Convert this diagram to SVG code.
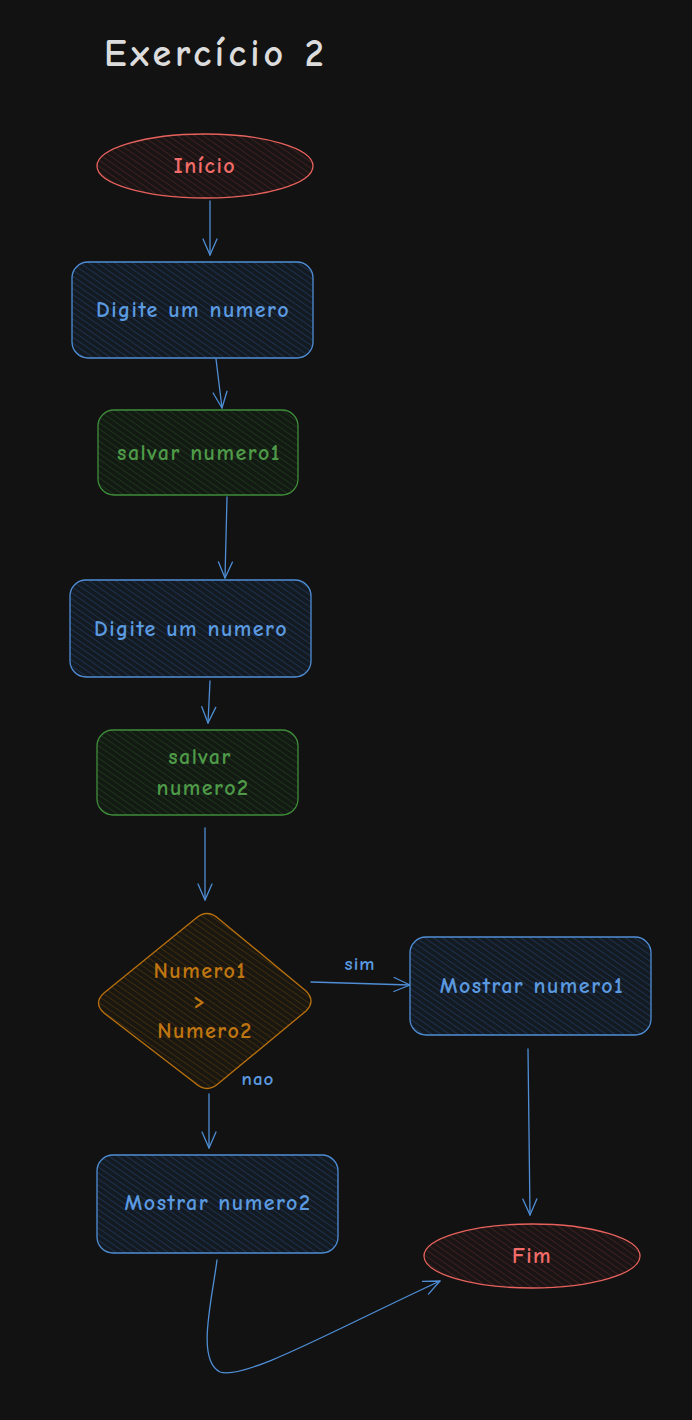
<svg xmlns="http://www.w3.org/2000/svg" width="692" height="1420" viewBox="0 0 692 1420">
  <style>
    text { font-family: "Comic Neue", "Liberation Sans", "DejaVu Sans", sans-serif; text-anchor: middle; dominant-baseline: central; font-weight: bold; }
    .title { font-size: 38px; fill: #dcdcdc; text-anchor: start; dominant-baseline: alphabetic; letter-spacing: 4px; }
    .lbl { font-size: 22px; letter-spacing: 1.5px; }
    .blue-t { fill: #5b9ae0; }
    .green-t { fill: #4e9a48; }
    .red-t { fill: #f26d6a; }
    .orange-t { fill: #c07610; }
    .edge-t { font-size: 19px; fill: #5b9ae0; letter-spacing: 1px; }
    .blue { stroke: #4f8ed6; stroke-width: 1.3; fill: url(#hatchBlue); }
    .green { stroke: #3f8d3a; stroke-width: 1.3; fill: url(#hatchGreen); }
    .red { stroke: #e8625d; stroke-width: 1.3; fill: url(#hatchRed); }
    .orange { stroke: #b8700e; stroke-width: 1.3; fill: url(#hatchOrange); }
    .conn { stroke: #4f8ed6; stroke-width: 1.3; fill: none; stroke-linecap: round; stroke-linejoin: round; }
  </style>
  <defs>
    <pattern id="hatchBlue" width="5" height="5" patternUnits="userSpaceOnUse" patternTransform="rotate(-55)">
      <rect width="5" height="5" fill="#141a22"/>
      <line x1="0" y1="0" x2="0" y2="5" stroke="#1f3b5e" stroke-width="1.4"/>
    </pattern>
    <pattern id="hatchGreen" width="5" height="5" patternUnits="userSpaceOnUse" patternTransform="rotate(-55)">
      <rect width="5" height="5" fill="#131a13"/>
      <line x1="0" y1="0" x2="0" y2="5" stroke="#1f3f1d" stroke-width="1.4"/>
    </pattern>
    <pattern id="hatchRed" width="5" height="5" patternUnits="userSpaceOnUse" patternTransform="rotate(-55)">
      <rect width="5" height="5" fill="#1a1414"/>
      <line x1="0" y1="0" x2="0" y2="5" stroke="#4a2424" stroke-width="1.4"/>
    </pattern>
    <pattern id="hatchOrange" width="5" height="5" patternUnits="userSpaceOnUse" patternTransform="rotate(-55)">
      <rect width="5" height="5" fill="#1a1610"/>
      <line x1="0" y1="0" x2="0" y2="5" stroke="#4a330e" stroke-width="1.4"/>
    </pattern>
    <marker id="arrow" viewBox="0 0 20 20" refX="18" refY="10" markerWidth="20" markerHeight="20" markerUnits="userSpaceOnUse" orient="auto">
      <path d="M2,3 L18,10 L2,17" fill="none" stroke="#4f8ed6" stroke-width="1.3" stroke-linecap="round" stroke-linejoin="round"/>
    </marker>
  </defs>

  <rect width="692" height="1420" fill="#121212"/>

  <text class="title" x="104" y="66">Exercício 2</text>

  <!-- connectors -->
  <g id="connectors">
    <path class="conn" d="M210,201 L210,255" marker-end="url(#arrow)"/>
    <path class="conn" d="M216,359 L222,408" marker-end="url(#arrow)"/>
    <path class="conn" d="M227,497 L225,578" marker-end="url(#arrow)"/>
    <path class="conn" d="M210,681 L208,723" marker-end="url(#arrow)"/>
    <path class="conn" d="M205,828 L205,900" marker-end="url(#arrow)"/>
    <path class="conn" d="M311,982 L410,985" marker-end="url(#arrow)"/>
    <text class="edge-t" x="360" y="964">sim</text>
    <path class="conn" d="M209,1094 L209,1148" marker-end="url(#arrow)"/>
    <text class="edge-t" x="258" y="1079">nao</text>
    <path class="conn" d="M528,1049 L530,1215" marker-end="url(#arrow)"/>
    <path class="conn" d="M217,1260 C212,1300 196,1360 220,1372 C245,1380 330,1332 440,1281" marker-end="url(#arrow)"/>
  </g>

  <g id="inicio">
    <ellipse class="red" cx="205" cy="166" rx="108" ry="32"/>
    <text class="lbl red-t" x="205" y="166">Início</text>
  </g>

  <g id="digite1">
    <rect class="blue" x="72" y="262" width="241" height="96" rx="16"/>
    <text class="lbl blue-t" x="193" y="310">Digite um numero</text>
  </g>

  <g id="salvar1">
    <rect class="green" x="98" y="410" width="200" height="85" rx="16"/>
    <text class="lbl green-t" x="199" y="453">salvar numero1</text>
  </g>

  <g id="digite2">
    <rect class="blue" x="70" y="580" width="241" height="97" rx="16"/>
    <text class="lbl blue-t" x="191" y="629">Digite um numero</text>
  </g>

  <g id="salvar2">
    <rect class="green" x="97" y="730" width="201" height="85" rx="16"/>
    <text class="lbl green-t" x="200" y="757">salvar</text>
    <text class="lbl green-t" x="203" y="788">numero2</text>
  </g>

  <g id="decisao">
    <path class="orange" d="M195,919 Q207,908 219,919 L306,991 Q316,1001 306,1011 L219,1083 Q207,1094 195,1083 L104,1013 Q93,1003 104,993 Z"/>
    <text class="lbl orange-t" x="200" y="971">Numero1</text>
    <text class="lbl orange-t" x="200" y="1001">&gt;</text>
    <text class="lbl orange-t" x="205" y="1031">Numero2</text>
  </g>

  <g id="mostrar1">
    <rect class="blue" x="410" y="937" width="241" height="98" rx="16"/>
    <text class="lbl blue-t" x="532" y="986">Mostrar numero1</text>
  </g>

  <g id="mostrar2">
    <rect class="blue" x="97" y="1155" width="241" height="98" rx="16"/>
    <text class="lbl blue-t" x="218" y="1203">Mostrar numero2</text>
  </g>

  <g id="fim">
    <ellipse class="red" cx="532" cy="1256" rx="108" ry="32"/>
    <text class="lbl red-t" x="532" y="1256">Fim</text>
  </g>
</svg>
